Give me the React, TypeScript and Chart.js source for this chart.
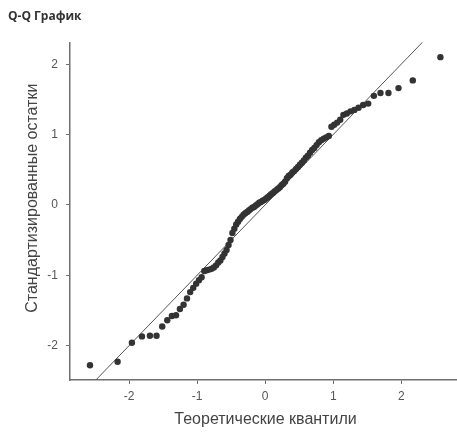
import React, { useEffect, useRef } from "react";
import { Chart, registerables } from "chart.js";

Chart.register(...registerables);

const titleText = "Q-Q График";
const xTitle = "Теоретические квантили";
const yTitle = "Стандартизированные остатки";

const xTicks = [-2, -1, 0, 1, 2];
const yTicks = [-2, -1, 0, 1, 2];

const theoretical = [
  -2.576, -2.17, -1.96, -1.812, -1.695, -1.598, -1.514, -1.44, -1.372, -1.311,
  -1.254, -1.2, -1.15, -1.103, -1.058, -1.015, -0.974, -0.935, -0.896, -0.86,
  -0.824, -0.789, -0.755, -0.722, -0.69, -0.659, -0.628, -0.598, -0.568, -0.539,
  -0.51, -0.482, -0.454, -0.426, -0.399, -0.372, -0.345, -0.319, -0.292, -0.266,
  -0.24, -0.215, -0.189, -0.164, -0.138, -0.113, -0.088, -0.063, -0.038, -0.013,
  0.013, 0.038, 0.063, 0.088, 0.113, 0.138, 0.164, 0.189, 0.215, 0.24,
  0.266, 0.292, 0.319, 0.345, 0.372, 0.399, 0.426, 0.454, 0.482, 0.51,
  0.539, 0.568, 0.598, 0.628, 0.659, 0.69, 0.722, 0.755, 0.789, 0.824,
  0.86, 0.896, 0.935, 0.974, 1.015, 1.058, 1.103, 1.15, 1.2, 1.254,
  1.311, 1.372, 1.44, 1.514, 1.598, 1.695, 1.812, 1.96, 2.17, 2.576,
];

const residuals = [
  -2.28, -2.23, -1.96, -1.87, -1.86, -1.86, -1.73, -1.64, -1.58, -1.57,
  -1.48, -1.42, -1.33, -1.24, -1.18, -1.12, -1.07, -1.03, -0.94, -0.93,
  -0.92, -0.91, -0.89, -0.86, -0.82, -0.79, -0.74, -0.69, -0.64, -0.57,
  -0.5, -0.4, -0.34, -0.28, -0.24, -0.2, -0.17, -0.14, -0.12, -0.1,
  -0.08, -0.06, -0.04, -0.03, -0.01, 0.01, 0.03, 0.04, 0.06, 0.07,
  0.09, 0.11, 0.13, 0.15, 0.17, 0.19, 0.21, 0.23, 0.25, 0.28,
  0.3, 0.33, 0.38, 0.41, 0.43, 0.46, 0.48, 0.51, 0.54, 0.57,
  0.6, 0.63, 0.67, 0.7, 0.74, 0.78, 0.81, 0.85, 0.89, 0.92,
  0.94, 0.96, 0.98, 1.11, 1.14, 1.17, 1.21, 1.28, 1.3, 1.33,
  1.35, 1.38, 1.42, 1.44, 1.55, 1.59, 1.59, 1.66, 1.77, 2.1,
];

// reference line y = x
const refLineX = [-3, 3];
const refLineY = [-3, 3];

const xRange = [-2.87, 2.82];
const yRange = [-2.49, 2.31];

const axisTitleFont = "16px 'Liberation Sans', Arial, sans-serif";

const axisTitlesPlugin = {
  id: "axisTitles",
  afterDraw(chart: any) {
    const { ctx, chartArea } = chart;
    ctx.save();
    ctx.fillStyle = "#444444";
    ctx.font = axisTitleFont;
    ctx.textAlign = "center";
    ctx.textBaseline = "middle";
    // x title
    ctx.fillText(xTitle, (chartArea.left + chartArea.right) / 2 + 2, chartArea.bottom + 40);
    // y title
    ctx.translate(33, (chartArea.top + chartArea.bottom) / 2 - 13);
    ctx.rotate(-Math.PI / 2);
    ctx.fillText(yTitle, 0, 0);
    ctx.restore();
  },
};

export default function App() {
  const canvasRef = useRef<HTMLCanvasElement | null>(null);

  useEffect(() => {
    if (!canvasRef.current) return;
    const axisColor = "#6e6e6e";
    const chart = new Chart(canvasRef.current, {
      type: "scatter",
      data: {
        datasets: [
          {
            type: "line",
            data: refLineX.map((x, i) => ({ x, y: refLineY[i] })),
            borderColor: "#555555",
            borderWidth: 1,
            pointRadius: 0,
            fill: false,
            order: 2,
          },
          {
            data: theoretical.map((x, i) => ({ x, y: residuals[i] })),
            backgroundColor: "#333333",
            borderColor: "#333333",
            borderWidth: 0,
            pointRadius: 3.2,
            order: 1,
          },
        ],
      },
      options: {
        animation: false,
        responsive: false,
        maintainAspectRatio: false,
        layout: { autoPadding: false, padding: { left: 8, right: 0, top: 0, bottom: 0 } },
        plugins: {
          legend: { display: false },
          tooltip: { enabled: false },
          title: {
            display: true,
            text: titleText,
            align: "start",
            color: "#333333",
            font: { family: "'Open Sans', sans-serif", size: 12, weight: "bold" },
            padding: { top: 9, bottom: 19 },
          },
        },
        scales: {
          x: {
            type: "linear",
            min: xRange[0],
            max: xRange[1],
            afterBuildTicks: (scale: any) => {
              scale.ticks = xTicks.map((v) => ({ value: v }));
            },
            afterFit: (scale: any) => {
              scale.height = 55;
              scale.paddingLeft = 0;
              scale.paddingRight = 0;
            },
            ticks: {
              color: "#555555",
              font: { family: "'Liberation Sans', Arial, sans-serif", size: 12 },
              padding: 5,
              maxRotation: 0,
            },
            grid: {
              display: true,
              drawOnChartArea: false,
              drawTicks: true,
              tickLength: 4,
              color: axisColor,
              lineWidth: 1,
            },
            border: { display: true, color: axisColor, width: 1.5 },
            title: { display: false },
          },
          y: {
            type: "linear",
            min: yRange[0],
            max: yRange[1],
            afterBuildTicks: (scale: any) => {
              scale.ticks = yTicks.map((v) => ({ value: v }));
            },
            afterFit: (scale: any) => {
              scale.width = 62;
              scale.paddingTop = 0;
              scale.paddingBottom = 0;
            },
            ticks: {
              color: "#555555",
              font: { family: "'Liberation Sans', Arial, sans-serif", size: 12 },
              padding: 8,
            },
            grid: {
              display: true,
              drawOnChartArea: false,
              drawTicks: true,
              tickLength: 4,
              color: axisColor,
              lineWidth: 1,
            },
            border: { display: true, color: axisColor, width: 1.5 },
            title: { display: false },
          },
        },
      },
      plugins: [axisTitlesPlugin],
    });
    return () => chart.destroy();
  }, []);

  return (
    <div style={{ position: "absolute", left: 0, top: 0, width: 457, height: 435, background: "#ffffff" }}>
      <canvas ref={canvasRef} width={457} height={435} style={{ display: "block", width: 457, height: 435 }} />
    </div>
  );
}
